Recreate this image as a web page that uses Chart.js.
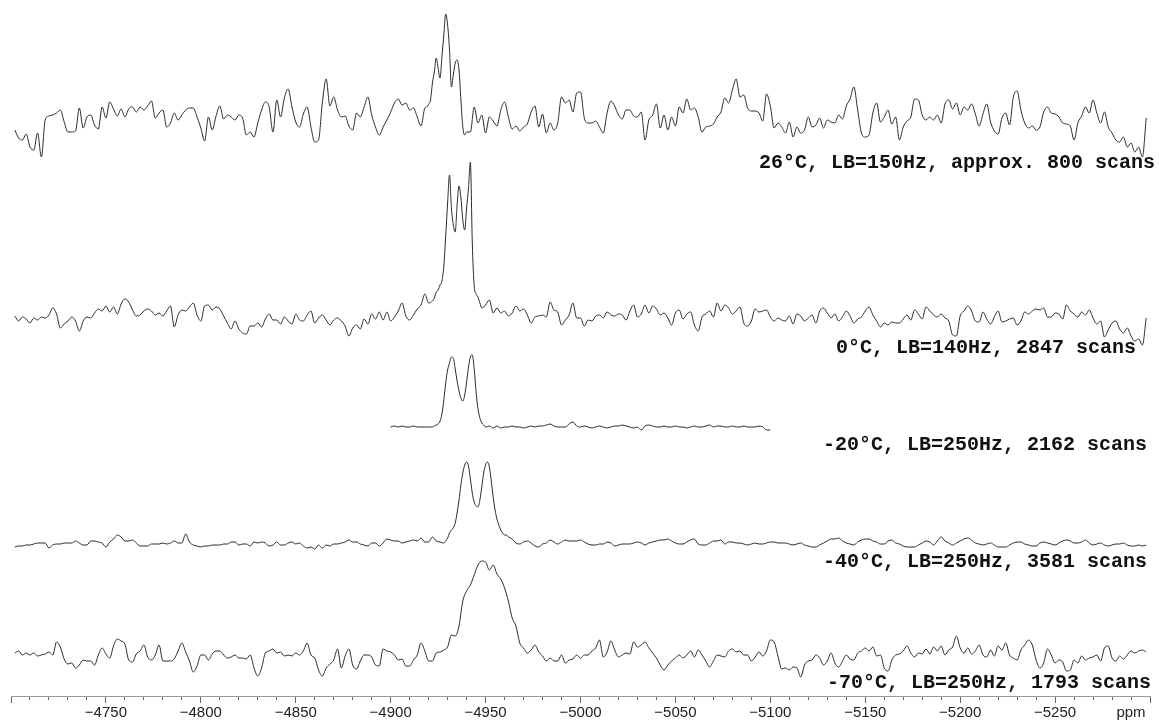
<!DOCTYPE html>
<html>
<head>
<meta charset="utf-8">
<script src="https://cdn.jsdelivr.net/npm/chart.js@4.4.1/dist/chart.umd.min.js"></script>
<style>
  html, body { margin: 0; padding: 0; background: #fff; }
  #wrap { width: 1159px; height: 722px; }
</style>
</head>
<body>
<div id="wrap"><canvas id="nmr" width="1159" height="722"></canvas></div>
<script>
// spectrum titles (top to bottom)
const titles = [
  '26°C, LB=150Hz, approx. 800 scans',
  '0°C, LB=140Hz, 2847 scans',
  '-20°C, LB=250Hz, 2162 scans',
  '-40°C, LB=250Hz, 3581 scans',
  '-70°C, LB=250Hz, 1793 scans'
];

// ppm grid: coarse points every 2 ppm, fine points (around the peaks) every 1 ppm
const STEP = 2;
const FINE_STEP = 1;
const startFull = -4702;  // first point of the full-width spectra
const start20 = -4900;    // -20 °C spectrum only covers -4900 .. -5100

// intensities (arbitrary units, 0 = baseline)
const int26 = [
  -10,-18,-20,-14,-27,-30,-13,-37,0,4,
  5,7,10,-2,-12,-12,-11,12,-8,3,
  5,-5,-9,13,2,18,11,4,11,3,
  11,13,8,13,10,14,19,2,7,10,
  -7,-3,7,0,5,10,12,12,3,-8,
  -21,3,-10,4,14,1,5,3,0,5,
  2,-15,-12,-17,-3,10,18,13,-12,20,
  3,22,31,13,-2,-7,6,13,-7,-22,
  -20,17,41,14,23,10,3,4,-6,-10,
  7,3,13,23,5,-7,-15,-7,0,8,
  17,21,15,17,10,12,3,-6,12,16,
  35,62,45,80,106,37,57,43,-10,-12,
  -12,13,-3,5,-13,3,-1,-6,10,18,
  3,-9,-6,-11,-7,-4,8,14,-7,6,
  -13,-3,-10,-3,23,17,20,8,27,28,
  2,-3,-3,-1,-7,-13,7,19,14,5,
  1,10,10,4,3,8,-20,0,5,16,
  -8,5,-10,3,-6,13,7,21,10,12,
  3,-12,-7,-6,-4,3,8,22,17,30,
  41,23,25,12,9,9,7,-1,26,14,
  -8,-3,-7,-13,-2,-17,-7,-13,-10,3,
  -7,-5,2,-8,0,-2,-3,5,1,14,
  21,33,10,-13,-17,-15,7,17,-2,3,
  10,-4,3,-20,-7,-1,3,21,20,5,
  0,3,0,5,-3,16,20,11,17,5,
  13,10,16,6,-6,6,16,-2,-11,-14,
  2,7,-5,23,29,10,-3,-8,-6,-10,
  -7,8,13,7,6,3,-3,-4,-6,-20,
  -3,4,13,7,20,7,-3,8,-7,-13,
  -20,-22,-17,-27,-23,-32,-27,-37,2
];
const fine26Start = -4918;
const fine26 = [12,13,16,20,37,48,62,52,42,63,85,106,95,70,33,45,57,60,50,20,-7,-15,-12];

const int0 = [
  2,-3,1,-1,-5,0,-2,1,0,3,
  10,4,-10,-6,-3,1,-3,-13,-3,1,
  0,5,9,7,12,6,11,4,14,19,
  16,8,2,3,7,9,7,3,5,2,
  7,12,-9,3,8,7,11,15,3,-3,
  12,13,8,11,9,2,-5,-11,-3,-11,
  -15,-16,-8,-8,-5,-9,-1,4,-2,-2,
  -6,1,-3,-6,4,-2,-3,3,7,-5,
  0,3,-2,-7,-2,0,-3,-8,-18,-10,
  -7,-11,-1,-6,4,-1,6,-2,6,-3,
  1,7,15,2,-2,3,9,13,24,15,
  17,26,33,53,120,127,87,132,100,97,
  153,28,21,10,13,18,5,10,5,7,
  2,5,12,7,9,3,-5,1,2,3,
  1,16,8,6,-7,-2,3,15,0,0,
  -8,-2,-3,2,3,0,6,3,2,4,
  3,-2,7,13,1,4,13,5,12,9,
  3,5,0,-7,5,8,-1,4,6,-7,
  -13,1,4,7,1,15,7,13,10,4,
  7,11,-5,-8,-3,9,6,7,8,1,
  -3,0,-2,-3,2,-6,4,2,-3,0,
  3,-5,7,10,5,0,4,-3,1,7,
  2,-5,-1,1,7,11,3,-3,-9,-5,
  -7,-4,-5,-5,-1,3,-2,8,4,-1,
  11,7,3,1,4,0,-3,-17,-18,2,
  7,12,7,-3,-4,6,-1,-6,1,7,
  -4,-3,-1,0,-7,-3,6,4,7,9,
  8,10,1,1,5,4,-1,13,7,4,
  1,6,3,8,0,-6,-3,-19,-12,-5,
  -3,-11,-15,-10,-18,-23,-21,-27,0
];
const fine0Start = -4922;
const fine0 = [17,20,26,28,33,37,52,82,115,143,110,93,86,113,132,120,98,88,110,130,156,75,32,24,21,15,10];

const int20 = [
  0,1,0,1,0,0,1,0,0,0,
  0,0,2,6,28,58,70,55,34,26,
  50,71,55,18,5,0,1,-1,1,-1,
  0,0,1,0,0,-1,0,1,0,1,
  1,2,3,1,0,0,0,3,5,1,
  0,1,0,-1,0,1,0,-1,0,1,
  1,2,1,0,-1,0,-3,1,2,1,
  0,0,1,0,0,1,0,0,-1,0,
  1,0,0,1,2,0,1,1,0,0,
  1,0,0,1,0,0,0,1,0,-3,
  -3
];
const fine20Start = -4920;
const fine20 = [0,0,0,1,2,3,6,13,27,44,57,64,70,69,58,46,36,29,26,32,45,60,70,72,58,35,18,9,4,2,0];

const int40 = [
  -2,-1,-1,0,0,1,2,2,2,-3,
  0,1,1,2,2,2,4,2,0,0,
  4,4,3,2,-2,3,6,10,8,4,
  4,5,2,-1,-1,-1,1,1,1,2,
  1,2,4,2,2,11,3,0,-1,-2,
  -1,-1,0,0,0,1,1,3,3,0,
  1,1,-1,3,2,3,2,-1,0,3,
  0,0,2,3,1,2,-1,-3,-2,-4,
  0,-3,0,-1,1,1,2,3,5,3,
  3,1,0,-1,2,2,-1,2,6,5,
  4,4,2,3,4,5,4,7,3,3,
  8,4,3,2,7,15,22,45,72,83,
  66,43,38,58,80,78,48,26,15,10,
  8,6,2,1,3,4,2,-1,-2,1,
  2,5,3,1,3,5,4,4,4,5,
  3,1,0,0,1,1,3,2,-1,0,
  1,1,1,2,3,2,0,2,3,4,
  5,5,6,4,2,1,1,3,5,6,
  1,0,0,2,4,4,5,1,3,3,
  2,2,1,0,1,2,1,1,2,3,
  3,2,2,2,1,0,1,2,0,-1,
  -2,-2,0,2,4,6,6,7,4,2,
  1,0,3,5,6,6,4,3,1,1,
  4,5,2,1,-1,-2,-2,-2,0,2,
  4,3,0,4,8,4,2,0,2,4,
  6,7,5,2,1,0,1,2,0,-2,
  -2,-2,0,2,3,3,1,0,-1,-1,
  2,3,2,1,0,2,4,5,4,2,
  2,3,5,2,0,1,2,0,-1,0,
  1,1,2,0,-1,-1,0,-1,0
];
const fine40Start = -4928;
const fine40 = [2,4,7,12,15,17,22,32,45,60,72,80,83,79,66,52,43,39,38,45,58,72,80,83,78,64,48,35,26,20,15,12,10,10,8];

const int70 = [
  5,7,3,5,3,5,2,3,4,6,
  3,16,11,-1,-6,-5,-10,-7,-2,-3,
  -3,-7,3,10,4,0,12,19,17,14,
  -2,-4,4,7,13,1,-2,3,13,-3,
  -3,-3,-1,7,15,6,-3,-14,-8,3,
  3,-2,4,7,7,3,0,1,3,0,
  0,-1,3,-10,-18,-10,5,7,9,5,
  6,2,3,2,5,3,7,15,3,0,
  -12,-18,-10,-6,-2,9,-10,2,9,-7,
  -11,-3,3,3,1,-7,-8,9,7,6,
  3,-2,-1,-8,-8,-2,3,15,7,-3,
  -3,5,6,8,11,23,22,32,57,67,
  73,83,93,97,96,88,93,84,79,70,
  57,40,32,15,10,5,8,13,6,2,
  -3,0,-3,-3,3,-5,-2,-1,3,0,
  3,3,7,10,18,1,6,17,8,1,
  3,5,4,16,11,13,16,10,5,0,
  -7,-12,-7,-3,0,3,0,3,7,1,
  8,3,-3,-9,-3,3,2,1,7,9,
  6,7,3,3,-3,1,6,2,7,18,
  16,2,-11,-10,-12,-9,-10,-19,-7,-3,
  -2,3,0,-7,-3,5,-5,-9,-3,3,
  -1,-2,5,7,10,7,11,2,3,-10,
  -13,-2,3,4,7,12,5,1,5,4,
  9,4,11,7,12,3,8,11,22,10,
  5,10,4,7,13,3,1,8,2,12,
  8,15,3,0,-2,8,13,18,13,-2,
  -10,-5,9,3,-5,-2,-4,-13,-12,-2,
  -5,2,-2,0,1,3,-3,10,12,0,
  -3,2,-1,3,7,5,7,8,6
];

// stacking: vertical offset of each trace and where its caption sits
const rows = [
  { base: 576, textRight: 1155, textDrop: 43 },
  { base: 378, textRight: 1136, textDrop: 30 },
  { base: 269, textRight: 1147, textDrop: 18 },
  { base: 151, textRight: 1147, textDrop: 17 },
  { base: 38,  textRight: 1151, textDrop: 25 }
];

const traces = [
  { values: int26, start: startFull, fine: fine26, fineStart: fine26Start },
  { values: int0,  start: startFull, fine: fine0,  fineStart: fine0Start },
  { values: int20, start: start20,   fine: fine20, fineStart: fine20Start },
  { values: int40, start: startFull, fine: fine40, fineStart: fine40Start },
  { values: int70, start: startFull, fine: null,   fineStart: null }
];

// merge coarse + fine sampled intensities into one sorted point list
function buildPoints(tr, base) {
  const pts = [];
  const fineEnd = tr.fine ? tr.fineStart - FINE_STEP * (tr.fine.length - 1) : null;
  tr.values.forEach((v, i) => {
    const x = tr.start - STEP * i;
    if (tr.fine && x <= tr.fineStart && x >= fineEnd) return;
    pts.push({ x: x, y: base + v });
  });
  if (tr.fine) {
    tr.fine.forEach((v, j) => pts.push({ x: tr.fineStart - FINE_STEP * j, y: base + v }));
  }
  pts.sort((a, b) => b.x - a.x);
  return pts;
}

const datasets = traces.map((tr, k) => ({
  label: titles[k],
  data: buildPoints(tr, rows[k].base),
  borderColor: '#2b2b2b',
  borderWidth: 1,
  pointRadius: 0,
  fill: false,
  cubicInterpolationMode: 'monotone'
}));

// captions under each trace
const captionPlugin = {
  id: 'captions',
  afterDatasetsDraw(chart) {
    const ctx = chart.ctx;
    const ys = chart.scales.y;
    ctx.save();
    ctx.font = 'bold 20px "Liberation Mono", "DejaVu Sans Mono", monospace';
    ctx.fillStyle = '#111';
    ctx.textAlign = 'right';
    ctx.textBaseline = 'middle';
    rows.forEach((r, k) => {
      ctx.fillText(titles[k], r.textRight, ys.getPixelForValue(r.base) + r.textDrop);
    });
    ctx.restore();
  }
};

new Chart(document.getElementById('nmr'), {
  type: 'line',
  data: { datasets: datasets },
  options: {
    responsive: false,
    animation: false,
    events: [],
    layout: { padding: { left: 11, right: 9, top: 0, bottom: 0 } },
    plugins: {
      legend: { display: false },
      tooltip: { enabled: false }
    },
    scales: {
      x: {
        type: 'linear',
        reverse: true,
        min: -5300,
        max: -4700,
        border: { display: true, color: '#9a9a9a', width: 1 },
        grid: {
          drawOnChartArea: false,
          drawTicks: true,
          tickLength: 7,
          tickColor: '#666',
          tickBorderDash: (c) => (c.tick && c.tick.value % 50 === 0) ? [] : [3, 10]
        },
        ticks: {
          stepSize: 10,
          autoSkip: false,
          maxRotation: 0,
          padding: 2,
          color: '#222',
          font: { family: '"Liberation Sans", Arial, sans-serif', size: 15, lineHeight: 1 },
          callback: (v) => {
            if (v === -5290) return 'ppm';
            if (v % 50 === 0 && v > -5300 && v < -4700) return '\u2212' + Math.abs(v);
            return '';
          }
        }
      },
      y: { display: false, min: 0, max: 696 }
    }
  },
  plugins: [captionPlugin]
});
</script>
</body>
</html>
